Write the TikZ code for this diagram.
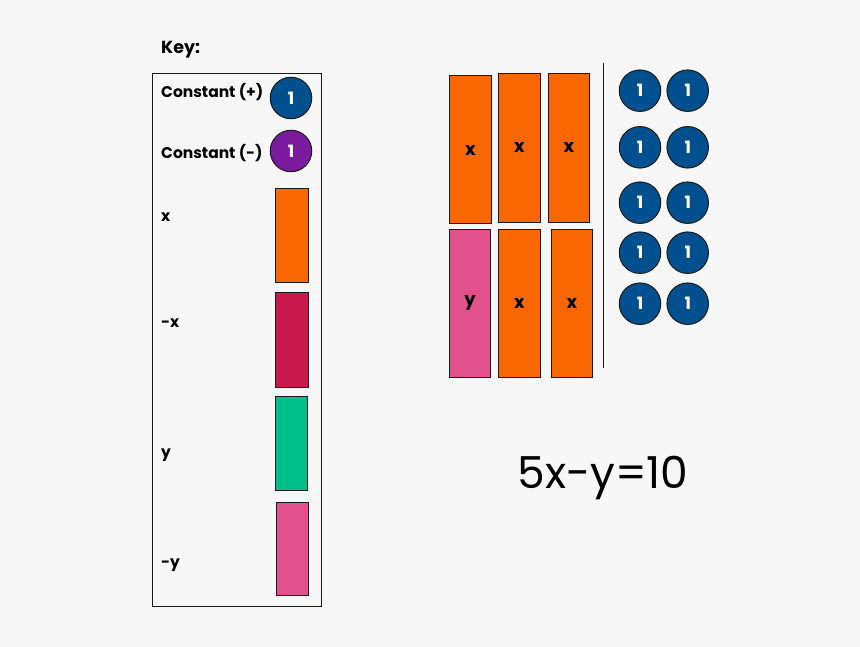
\documentclass[tikz,border=0pt]{standalone}
\usepackage{fontspec}
\setmainfont{Poppins}
\definecolor{bg}{HTML}{F7F7F7}
\definecolor{cblue}{HTML}{00508F}
\definecolor{cpurple}{HTML}{7A1A9C}
\definecolor{corange}{HTML}{F96700}
\definecolor{ccrimson}{HTML}{C8184C}
\definecolor{cgreen}{HTML}{00C08A}
\definecolor{cpink}{HTML}{E2518C}
\definecolor{cedge}{HTML}{1A1A1A}
\begin{document}
\begin{tikzpicture}[x=1pt,y=-1pt,
  tile/.style={draw=cedge, line width=1pt, rectangle, inner sep=0pt, font=\fontsize{18}{18}\selectfont\bfseries},
  disc/.style={draw=cedge, line width=1pt, circle, fill=cblue, minimum size=41.5pt, inner sep=0pt, text=white, font=\fontsize{17}{17}\selectfont\bfseries},
  klabel/.style={anchor=west, inner sep=0pt, font=\fontsize{15.5}{15.5}\selectfont\bfseries},
]
\useasboundingbox[fill=bg] (0,0) rectangle (860,647);
% Key
\node[anchor=west, inner sep=0pt, font=\fontsize{17.5}{17.5}\selectfont\bfseries] (keytitle) at (161,49.5) {Key:};
\node[draw=cedge, line width=1pt, rectangle, minimum width=169pt, minimum height=532pt, inner sep=0pt] (keybox) at (236.5,340) {};
\node[klabel] (lcp) at (161,92) {Constant (+)};
\node[disc] (kcp) at (291,98) {1};
\node[klabel] (lcm) at (161,153) {Constant (-)};
\node[disc, fill=cpurple] (kcm) at (291,151) {1};
\node[klabel] (lx) at (161,217) {x};
\node[tile, fill=corange, minimum width=33pt, minimum height=94pt] (kx) at (291.5,236) {};
\node[klabel] (lmx) at (161,323) {-x};
\node[tile, fill=ccrimson, minimum width=33pt, minimum height=94pt] (kmx) at (291.5,340) {};
\node[klabel] (ly) at (161,455) {y};
\node[tile, fill=cgreen, minimum width=32pt, minimum height=94pt] (ky) at (291,443) {};
\node[klabel] (lmy) at (161,565) {-y};
\node[tile, fill=cpink, minimum width=32pt, minimum height=93pt] (kmy) at (292,548.5) {};
% Tiles
\node[tile, fill=corange, minimum width=42.5pt, minimum height=148pt] (r1) at (470.5,150) {x};
\node[tile, fill=corange, minimum width=42.4pt, minimum height=149pt] (r2) at (519.5,147.8) {x};
\node[tile, fill=corange, minimum width=41.4pt, minimum height=149pt] (r3) at (569,147.8) {x};
\node[tile, fill=cpink, minimum width=41.4pt, minimum height=148pt, text depth=0pt] (r4) at (470,303.3) {\raisebox{6pt}{y}};
\node[tile, fill=corange, minimum width=42.4pt, minimum height=148pt] (r5) at (519.5,303.3) {x};
\node[tile, fill=corange, minimum width=41.4pt, minimum height=148pt] (r6) at (572,303.3) {x};
% divider
\coordinate (dtop) at (603.3,63.3);
\coordinate (dbot) at (603.3,368.3);
\draw[cedge, line width=1pt] (dtop) -- (dbot);
% ones
\node[disc] (c11) at (640,90.7) {1};
\node[disc] (c12) at (687.7,90.7) {1};
\node[disc] (c21) at (640,147.3) {1};
\node[disc] (c22) at (687.7,147.3) {1};
\node[disc] (c31) at (640,202.7) {1};
\node[disc] (c32) at (687.7,202.7) {1};
\node[disc] (c41) at (640,252.7) {1};
\node[disc] (c42) at (687.7,252.7) {1};
\node[disc] (c51) at (640,303.7) {1};
\node[disc] (c52) at (687.7,303.7) {1};
% equation
\node[inner sep=0pt, font=\fontsize{44}{44}\selectfont] (eq) at (603,478) {5x-y=10};
\end{tikzpicture}
\end{document}
